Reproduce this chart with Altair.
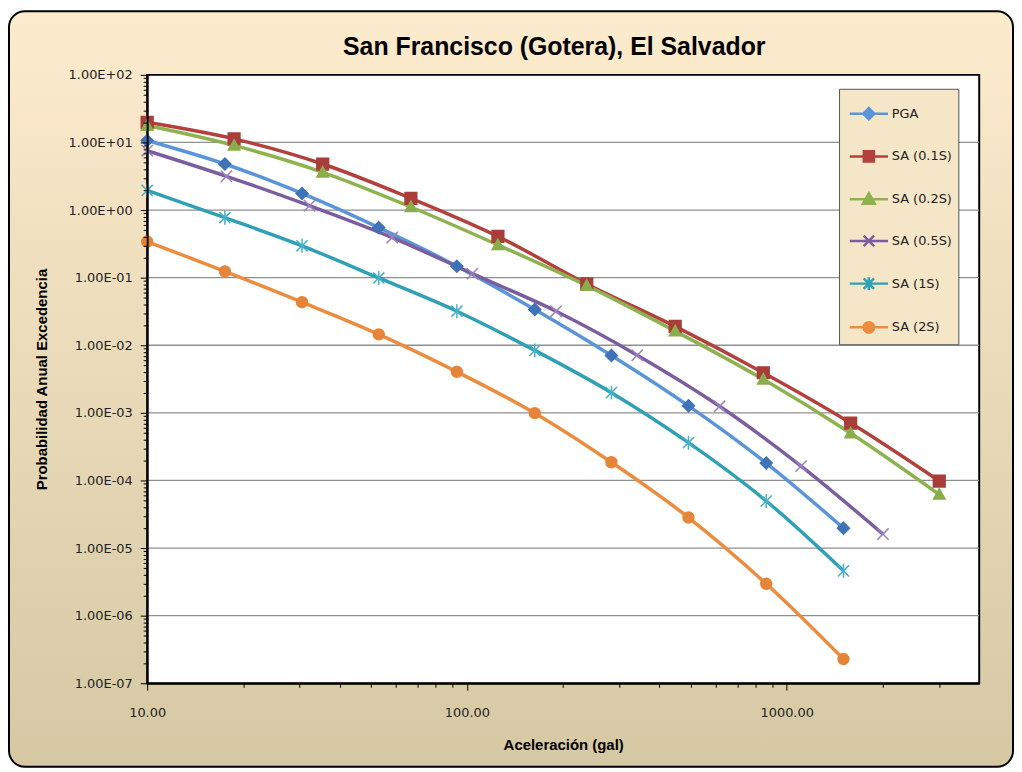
import altair as alt
import pandas as pd

TITLE = "San Francisco (Gotera), El Salvador"
SERIES = ["PGA", "SA (0.1S)", "SA (0.2S)", "SA (0.5S)", "SA (1S)", "SA (2S)"]

X_PGA = [10, 17.5, 30.5, 53, 93, 163, 283, 493, 863, 1505]
Y_PGA = [10.7, 4.8, 1.76, 0.55, 0.148, 0.0338, 0.00706, 0.00127, 1.81e-4, 1.97e-5]

X_SA01 = [10, 18.7, 35.4, 66.8, 125, 237, 448, 845, 1585, 3000]
Y_SA01 = [19.9, 11.3, 4.8, 1.49, 0.407, 0.0807, 0.019, 0.00392, 7.06e-4, 9.8e-5]

X_SA02 = [10, 18.7, 35.4, 66.8, 125, 237, 448, 845, 1585, 3000]
Y_SA02 = [17.8, 9.04, 3.62, 1.11, 0.305, 0.0762, 0.0162, 0.00313, 5.0e-4, 6.2e-5]

X_SA05 = [10, 17.7, 32.2, 58.4, 104, 190, 341, 617, 1109, 2000]
Y_SA05 = [7.55, 3.16, 1.16, 0.392, 0.1146, 0.0319, 0.00713, 1.25e-3, 1.63e-4, 1.61e-5]

X_SA1 = [10, 17.5, 30.5, 53, 93, 163, 283, 493, 863, 1505]
Y_SA1 = [1.95, 0.771, 0.296, 0.099, 0.0319, 8.4e-3, 1.99e-3, 3.62e-4, 4.97e-5, 4.6e-6]

X_SA2 = [10, 17.5, 30.5, 53, 93, 163, 283, 493, 863, 1505]
Y_SA2 = [0.342, 0.124, 0.0434, 0.0145, 4.05e-3, 9.9e-4, 1.86e-4, 2.83e-5, 2.96e-6, 2.28e-7]

X_MAJOR = [10, 100, 1000]
X_MINOR = [20, 30, 40, 50, 60, 70, 80, 90, 200, 300, 400, 500, 600, 700, 800, 900, 2000, 3000]
Y_MAJOR = [1e-7, 1e-6, 1e-5, 1e-4, 1e-3, 1e-2, 1e-1, 1e0, 1e1, 1e2]
GRID_Y = [1e-6, 1e-5, 1e-4, 1e-3, 1e-2, 1e-1, 1e0, 1e1]

LINE_COLORS = ["#5B95D9", "#B3403D", "#8FB250", "#7B5EA0", "#2FA0B6", "#EB8C3E"]
MARK_COLORS = ["#3F72B6", "#A83D3A", "#8AAD4C", "#9A84BD", "#45B1C9", "#E5853A"]

MARK_PATHS = [
    "M0,-1L1,0L0,1L-1,0Z",
    "M-1,-1H1V1H-1Z",
    "M0,-1L1,0.8H-1Z",
    "M-1,-1L1,1M-1,1L1,-1",
    "M-1,-1L1,1M-1,1L1,-1M0,-1.25V1.25",
    "M-1,0A1,1 0 1,0 1,0A1,1 0 1,0 -1,0Z",
]
MARK_SIZES = [144, 121, 169, 121, 144, 144]
LEGEND_PATHS = [
    "M-1.1,0H1.1M0,-0.32L0.32,0L0,0.32L-0.32,0Z",
    "M-1.1,0H1.1M-0.29,-0.29H0.29V0.29H-0.29Z",
    "M-1.1,0H1.1M0,-0.34L0.34,0.26H-0.34Z",
    "M-1.1,0H1.1M-0.3,-0.3L0.3,0.3M-0.3,0.3L0.3,-0.3",
    "M-1.1,0H1.1M-0.3,-0.3L0.3,0.3M-0.3,0.3L0.3,-0.3M0,-0.36V0.36",
    "M-1.1,0H1.1M-0.3,0A0.3,0.3 0 1,0 0.3,0A0.3,0.3 0 1,0 -0.3,0Z",
]

xs = [X_PGA, X_SA01, X_SA02, X_SA05, X_SA1, X_SA2]
ys = [Y_PGA, Y_SA01, Y_SA02, Y_SA05, Y_SA1, Y_SA2]
rows = []
for name, xv, yv in zip(SERIES, xs, ys):
    for a, b in zip(xv, yv):
        rows.append({"series": name, "x": a, "y": b})
df = pd.DataFrame(rows)

W, H = 837, 612
FONT = "DejaVu Sans"
TFONT = "Liberation Sans"

major = "abs(log(datum.value)/LN10 - round(log(datum.value)/LN10)) < 0.001"
e = "round(log(datum.value)/LN10)"
ylabel = (f"{major} ? ('1.00E' + ({e} >= 0 ? '+' : '-') + (abs({e}) < 10 ? '0' : '') + abs({e})) : ''")
xlabel = f"{major} ? format(datum.value, '.2f') : ''"

y_ticks = sorted(set(Y_MAJOR + [m * 10 ** k for k in range(-7, 2) for m in range(2, 10)]))
x_ticks = sorted(X_MAJOR + X_MINOR)

xscale = alt.Scale(type="log", domain=[10, 4000], nice=False)
yscale = alt.Scale(type="log", domain=[1e-7, 100], nice=False)

xaxis = alt.Axis(values=x_ticks, labelExpr=xlabel, grid=False,
                 tickSize={"condition": {"test": major, "value": 7}, "value": 4},
                 tickColor="black", domainColor="black", domainWidth=2,
                 labelFont=FONT, labelFontSize=13, labelColor="#222",
                 labelPadding=16, labelOverlap=False, labelFlush=False, labelBound=False,
                 title="Aceleración (gal)", titleFont=TFONT, titleFontSize=15,
                 titleFontWeight="bold", titleColor="black", titlePadding=19, zindex=1)
yaxis = alt.Axis(values=y_ticks, labelExpr=ylabel, grid=False,
                 tickSize={"condition": {"test": major, "value": 7}, "value": 4},
                 tickColor="black", domainColor="black", domainWidth=2,
                 labelFont=FONT, labelFontSize=13, labelColor="#222",
                 labelPadding=8, labelOverlap=False, labelFlush=False, labelBound=False,
                 title="Probabilidad Anual Excedencia", titleFont=TFONT, titleFontSize=15,
                 titleFontWeight="bold", titleColor="black", titlePadding=19, zindex=1)

grad = alt.LinearGradient(gradient="linear",
                          stops=[alt.GradientStop(color="#FDEBCD", offset=0),
                                 alt.GradientStop(color="#D5C8A3", offset=1)],
                          x1=0, x2=0, y1=0, y2=1)

one = alt.Data(values=[{"t": TITLE}])
bg = alt.Chart(one).mark_rect(fill=grad, stroke="black", strokeWidth=2, cornerRadius=16).encode(
    x=alt.value(-139), x2=alt.value(871), y=alt.value(-64), y2=alt.value(696))
plotbg = alt.Chart(one).mark_rect(fill="white", stroke="black", strokeWidth=2).encode(
    x=alt.value(0), x2=alt.value(W), y=alt.value(0), y2=alt.value(H))
title = alt.Chart(one).mark_text(font=TFONT, fontSize=25, fontWeight="bold", color="black",
                                 align="center", baseline="middle").encode(
    text="t:N", x=alt.value(W / 2 - 9), y=alt.value(-28))

grid = alt.Chart(pd.DataFrame({"g": GRID_Y})).mark_rule(color="#8F8F8F", strokeWidth=1.3).encode(
    y=alt.Y("g:Q", scale=yscale, axis=yaxis))

base = alt.Chart(df)
lines = base.mark_line(interpolate="catmull-rom", strokeWidth=3.5).encode(
    x=alt.X("x:Q", scale=xscale, axis=xaxis),
    y=alt.Y("y:Q", scale=yscale, axis=yaxis),
    color=alt.Color("series:N", scale=alt.Scale(domain=SERIES, range=LINE_COLORS), legend=None),
    detail="series:N",
)
points = base.mark_point(filled=True, strokeWidth=1.5, opacity=1).encode(
    x=alt.X("x:Q", scale=xscale, axis=xaxis),
    y=alt.Y("y:Q", scale=yscale, axis=yaxis),
    fill=alt.Fill("series:N", scale=alt.Scale(domain=SERIES, range=MARK_COLORS), legend=None),
    stroke=alt.Stroke("series:N", scale=alt.Scale(domain=SERIES, range=MARK_COLORS), legend=None),
    shape=alt.Shape("series:N", scale=alt.Scale(domain=SERIES, range=MARK_PATHS), legend=None),
    size=alt.Size("series:N", scale=alt.Scale(domain=SERIES, range=MARK_SIZES), legend=None),
)

leg = alt.Legend(orient="none", legendX=696, legendY=14, title=None,
                 padding=6, rowPadding=13, symbolSize=1225, symbolOffset=5,
                 labelOffset=4, symbolStrokeWidth=2.5, symbolOpacity=1,
                 labelFont=FONT, labelFontSize=13, labelColor="#222",
                 fillColor="#F5E6C7", strokeColor="#555555")
legend_layer = base.transform_filter("false").mark_point(filled=True).encode(
    x=alt.X("x:Q", scale=xscale, axis=xaxis),
    y=alt.Y("y:Q", scale=yscale, axis=yaxis),
    fill=alt.Fill("series:N", scale=alt.Scale(domain=SERIES, range=LINE_COLORS), legend=leg),
    stroke=alt.Stroke("series:N", scale=alt.Scale(domain=SERIES, range=LINE_COLORS), legend=leg),
    shape=alt.Shape("series:N", scale=alt.Scale(domain=SERIES, range=LEGEND_PATHS), legend=leg),
)

chart = alt.layer(bg, plotbg, title, grid, lines, points, legend_layer).resolve_scale(
    fill="independent", stroke="independent", shape="independent"
).properties(
    width=W, height=H, padding=0,
).configure_view(stroke=None)

chart.save("out.html", embed_options={"renderer": "svg", "actions": False})
